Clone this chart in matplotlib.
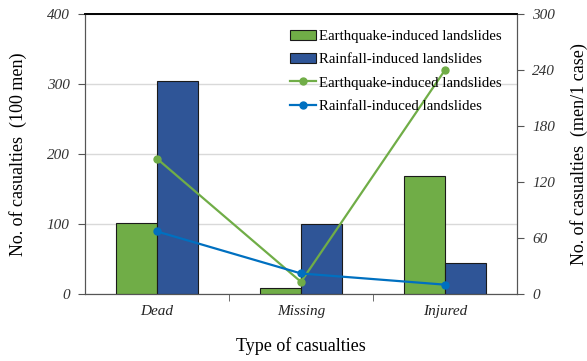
import matplotlib
matplotlib.use("Agg")
import matplotlib.pyplot as plt
import numpy as np

categories = ["Dead", "Missing", "Injured"]
bar_eq = [101, 9, 168]
bar_rain = [304, 100, 44]
line_eq = [145, 13, 240]
line_rain = [67, 22, 10]
left_ticks = [0, 100, 200, 300, 400]
right_ticks = [0, 60, 120, 180, 240, 300]

plt.rcParams['font.family'] = ['Liberation Serif', 'DejaVu Serif']

fig = plt.figure(figsize=(5.87, 3.61), dpi=100)
ax = fig.add_axes([85/587, 67/361, 432/587, 280/361])
ax2 = ax.twinx()

x = np.arange(len(categories))
w = 0.285
green_bar = "#70AD47"
blue_bar = "#2F5597"
green_line = "#70AD47"
blue_line = "#0070C0"

ax.bar(x - w/2, bar_eq, w, color=green_bar, edgecolor="#1a1a1a", linewidth=0.8,
       label="Earthquake-induced landslides", zorder=3)
ax.bar(x + w/2, bar_rain, w, color=blue_bar, edgecolor="#1a1a1a", linewidth=0.8,
       label="Rainfall-induced landslides", zorder=3)

ax.set_xlim(-0.5, 2.5)
ax.set_ylim(0, 400)
ax.set_yticks(left_ticks)
ax.set_yticklabels([str(t) for t in left_ticks], fontstyle="italic", fontsize=11, color="#333333")
ax.yaxis.grid(True, color="#d9d9d9", linewidth=1, zorder=0)
ax.set_axisbelow(True)

ax.set_xticks(x)
ax.set_xticklabels(categories, fontstyle="italic", fontsize=11, color="#222222")
ax.set_xticks([0.5, 1.5], minor=True)
ax.tick_params(axis="x", which="major", length=0, pad=8)
ax.tick_params(axis="x", which="minor", length=5, color="#555555", direction="out")
ax.tick_params(axis="y", length=5, color="#555555", direction="out", pad=6)

ax2.plot(x, line_eq, color=green_line, linewidth=1.6, marker="o", markersize=5,
         label="Earthquake-induced landslides", zorder=4)
ax2.plot(x, line_rain, color=blue_line, linewidth=1.6, marker="o", markersize=5,
         label="Rainfall-induced landslides", zorder=4)
ax2.set_ylim(0, 300)
ax2.set_yticks(right_ticks)
ax2.set_yticklabels([str(t) for t in right_ticks], fontstyle="italic", fontsize=11, color="#333333")
ax2.tick_params(axis="y", length=5, color="#555555", direction="out", pad=6)

for a in (ax, ax2):
    a.spines["left"].set_color("#555555")
    a.spines["right"].set_color("#555555")
    a.spines["bottom"].set_color("#555555")
    a.spines["top"].set_color("black")
    a.spines["top"].set_linewidth(1.2)

ax.set_ylabel("No. of casualties  (100 men)", fontsize=13)
ax.yaxis.set_label_coords(-58/432, 0.5)
ax2.set_ylabel("No. of casualties  (men/1 case)", fontsize=13, rotation=90)
ax2.yaxis.set_label_coords(1 + 53/432, 0.5)
ax.set_xlabel("Type of casualties", fontsize=13, labelpad=14)

h1, l1 = ax.get_legend_handles_labels()
h2, l2 = ax2.get_legend_handles_labels()
leg = ax2.legend(h1 + h2, l1 + l2, loc="upper left", bbox_to_anchor=(0.474, 0.944),
                 frameon=False, fontsize=10.7, handlelength=1.75, handletextpad=0.2,
                 labelspacing=0.66, borderpad=0, borderaxespad=0)

fig.savefig("out.png", dpi=100)
